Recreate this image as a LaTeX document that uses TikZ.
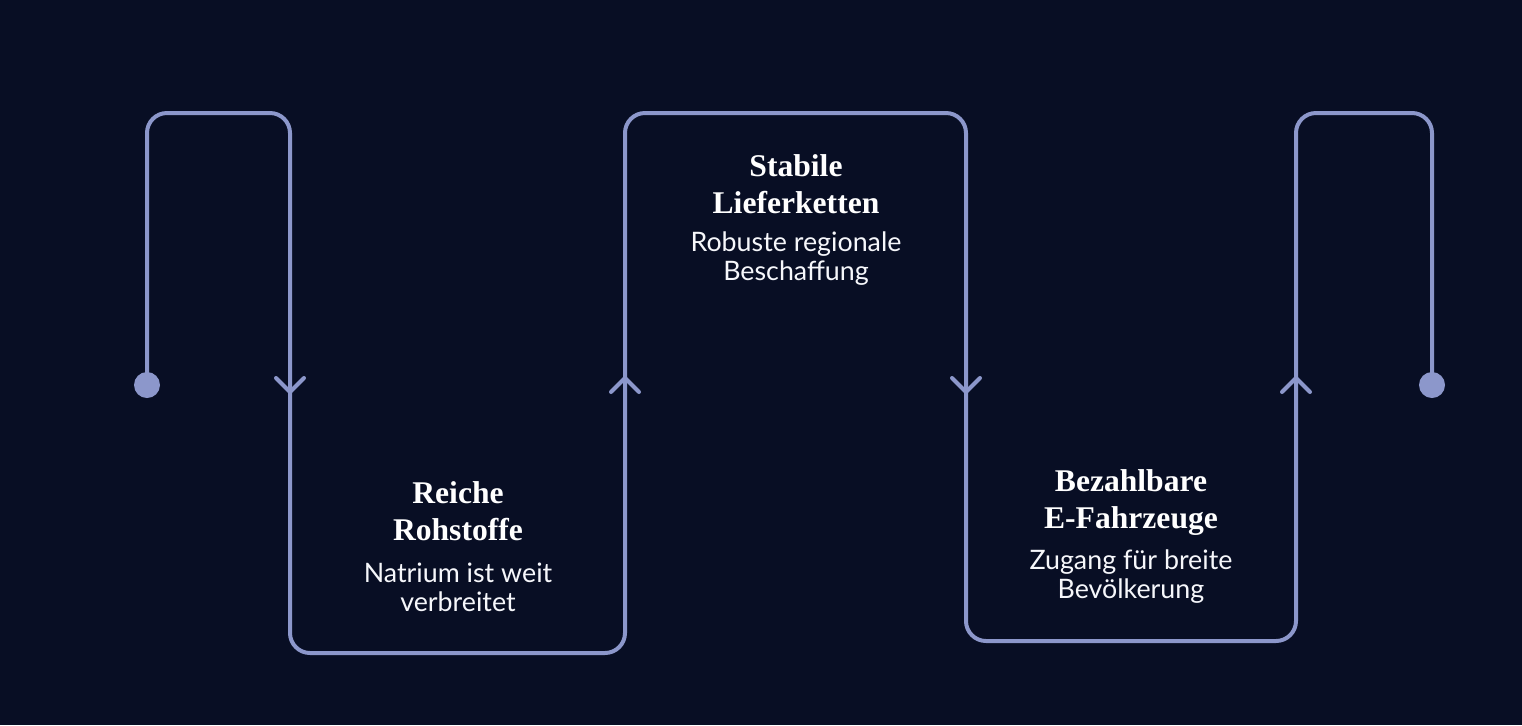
\documentclass[tikz,border=0pt]{standalone}
\usepackage{fontspec}
\setmainfont{Lato}
\newfontfamily\titlefont{Liberation Serif}
\definecolor{bgblue}{HTML}{080E24}
\definecolor{linepurple}{HTML}{8C97CB}
\tikzset{
  pathline/.style={linepurple, line width=2pt, rounded corners=10pt},
  chevron/.style={linepurple, line width=2pt, line cap=round},
  title/.style={text=white, align=center, font=\titlefont\bfseries\fontsize{15.8}{18.5}\selectfont},
  sub/.style={text=white!92!linepurple, align=center, font=\fontsize{13.4}{14.5}\selectfont},
}
\begin{document}
\begin{tikzpicture}[x=0.5pt,y=-0.5pt]
    \fill[bgblue] (0,0) rectangle (1522,725);
    % the winding path
    \draw[pathline] (147,385) -- (147,113) -- (290,113) -- (290,653) -- (625,653)
        -- (625,113) -- (966,113) -- (966,641) -- (1296,641) -- (1296,113)
        -- (1432,113) -- (1432,385);
    \fill[linepurple] (147,385) circle (13);
    \fill[linepurple] (1432,385) circle (13);
    % chevrons
    \foreach \x/\d in {290/1, 625/-1, 966/1, 1296/-1}
        \draw[chevron] (\x-14,385-7*\d) -- (\x,385+7*\d) -- (\x+14,385-7*\d);
    % texts
    \node[title] (rohTitle) at (458,511) {Reiche\\Rohstoffe};
    \node[sub] (rohText) at (458,587) {Natrium ist weit\\verbreitet};
    \node[title] (liefTitle) at (796,184) {Stabile\\Lieferketten};
    \node[sub] (liefText) at (796,259) {Robuste regionale\\Beschaffung};
    \node[title] (fahrTitle) at (1131,503) {Bezahlbare\\E-Fahrzeuge};
    \node[sub] (fahrText) at (1131,577) {Zugang für breite\\Bevölkerung};
\end{tikzpicture}
\end{document}
